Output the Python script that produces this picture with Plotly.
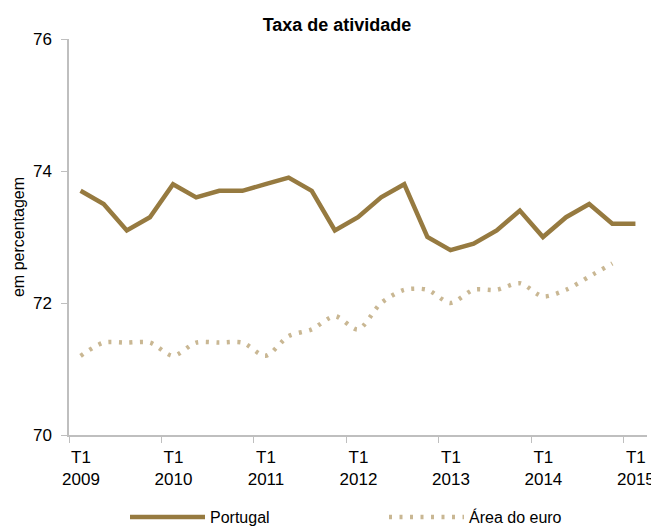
import plotly.graph_objects as go

# ---- data ----
years = ["2009", "2010", "2011", "2012", "2013", "2014", "2015"]
quarters = [f"T{q} {y}" for y in years[:-1] for q in (1, 2, 3, 4)] + ["T1 2015"]

portugal = [73.7, 73.5, 73.1, 73.3,
            73.8, 73.6, 73.7, 73.7,
            73.8, 73.9, 73.7, 73.1,
            73.3, 73.6, 73.8, 73.0,
            72.8, 72.9, 73.1, 73.4,
            73.0, 73.3, 73.5, 73.2,
            73.2]
euro = [71.2, 71.4, 71.4, 71.4,
        71.2, 71.4, 71.4, 71.4,
        71.2, 71.5, 71.6, 71.8,
        71.6, 72.0, 72.2, 72.2,
        72.0, 72.2, 72.2, 72.3,
        72.1, 72.2, 72.4, 72.6]

y_ticks = [70, 72, 74, 76]

# ---- derived positions (category index) ----
x_pt = list(range(len(portugal)))
x_eu = list(range(len(euro)))
year_starts = [i for i, q in enumerate(quarters) if q.startswith("T1")]
tickvals = [i - 0.5 for i in year_starts]
ticktext = [quarters[i].replace(" ", "<br>") for i in year_starts]

C_PT = "#967A40"
C_EU = "#C9B793"
AXIS = "#BFBFBF"
FONT = "Liberation Sans, Arial, sans-serif"

fig = go.Figure()
fig.add_trace(go.Scatter(x=x_pt, y=portugal, mode="lines", name="Portugal",
                         line=dict(color=C_PT, width=4.5), legend="legend"))
fig.add_trace(go.Scatter(x=x_eu, y=euro, mode="lines", name="Área do euro",
                         line=dict(color=C_EU, width=4.5, dash="3px,7.5px",
                                   shape="spline", smoothing=0.8),
                         legend="legend2"))

# page body has an 8px margin: size the figure so it fills the 659x527 window
OFF = 8
W, H = 659 - OFF, 527 - OFF
ml, mr, mt, mb = 69 - OFF, 12, 39 - OFF, 92
pw, ph = W - ml - mr, H - mt - mb
cat_px = pw / len(quarters)

leg_common = dict(orientation="h", xanchor="left", yanchor="middle",
                  y=-(517 - 435) / ph, itemwidth=75,
                  font=dict(family=FONT, size=16, color="#000000"),
                  bgcolor="rgba(0,0,0,0)")

fig.update_layout(
    width=W, height=H,
    margin=dict(l=ml, r=mr, t=mt, b=mb, autoexpand=False),
    paper_bgcolor="white", plot_bgcolor="white",
    font=dict(family=FONT, color="#000000"),
    title=dict(text="<b>Taxa de atividade</b>", x=(337 - OFF) / W, xanchor="center",
               y=1 - (25 - OFF) / H, yanchor="middle",
               font=dict(family=FONT, size=18, color="#000000")),
    showlegend=True,
    legend=dict(x=(125 - 69) / pw, **leg_common),
    legend2=dict(x=(384 - 69) / pw, **leg_common),
    xaxis=dict(range=[-0.5, len(quarters) - 0.5], tickmode="array",
               tickvals=tickvals, ticktext=ticktext,
               ticklabelshift=round(cat_px / 2),
               ticks="outside", ticklen=6, tickcolor=AXIS, tickwidth=1,
               showline=True, linecolor=AXIS, linewidth=1.5,
               showgrid=False, zeroline=False, automargin=False,
               tickfont=dict(family=FONT, size=17, color="#000000")),
    yaxis=dict(range=[70, 76], tickmode="array", tickvals=y_ticks,
               ticks="outside", ticklen=6, tickcolor=AXIS, tickwidth=1,
               ticklabelstandoff=6,
               showline=True, linecolor=AXIS, linewidth=1.5,
               showgrid=False, zeroline=False, automargin=False,
               tickfont=dict(family=FONT, size=17, color="#000000"),
               title=dict(text="em percentagem", standoff=4,
                          font=dict(family=FONT, size=16, color="#000000"))),
)

fig.write_html("out.html")
